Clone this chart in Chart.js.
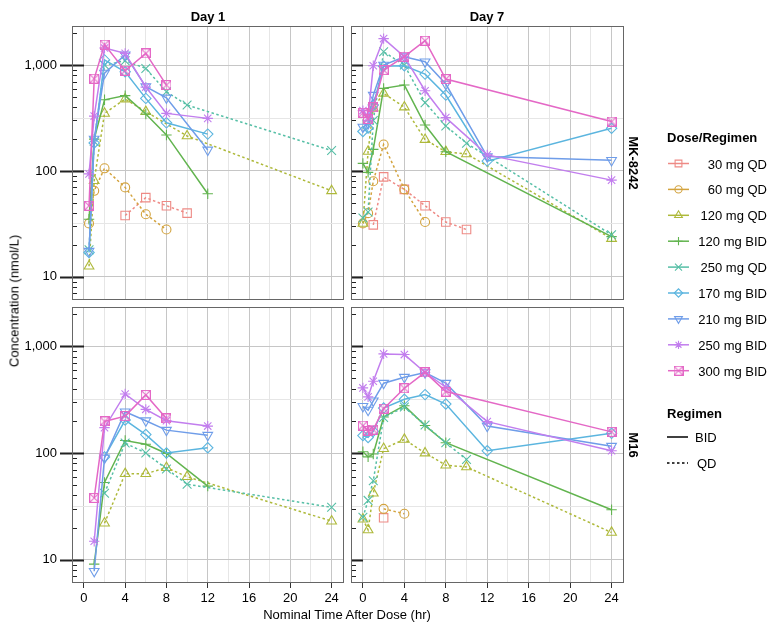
<!DOCTYPE html>
<html>
<head>
<meta charset="utf-8">
<script src="https://cdn.jsdelivr.net/npm/chart.js@4.4.0/dist/chart.umd.min.js"></script>
<style>
  html, body { margin: 0; padding: 0; background: #fff; }
  body { width: 779px; height: 634px; position: relative; overflow: hidden;
         font-family: "Liberation Sans", Arial, Helvetica, sans-serif; color: #000; }
  canvas.panel { position: absolute; }
  .t { position: absolute; white-space: nowrap; font-size: 13px; line-height: 1; }
  .b { font-weight: bold; }
</style>
</head>
<body>
<canvas id="pTL" class="panel" width="356" height="298" style="left:0px;top:14px"></canvas>
<canvas id="pTR" class="panel" width="297" height="298" style="left:339px;top:14px"></canvas>
<canvas id="pBL" class="panel" width="356" height="320" style="left:0px;top:295px"></canvas>
<canvas id="pBR" class="panel" width="297" height="320" style="left:339px;top:295px"></canvas>
<canvas id="leg" class="panel" width="45" height="345" style="left:655px;top:140px"></canvas>
<script>
// ---------------- data ----------------
const TIMES   = [0, 0.5, 1, 2, 4, 6, 8, 10, 12, 24];
const SERIES  = ['30 mg QD', '60 mg QD', '120 mg QD', '120 mg BID', '250 mg QD',
                 '170 mg BID', '210 mg BID', '250 mg BID', '300 mg BID'];
const REGIMEN = ['QD', 'QD', 'QD', 'BID', 'QD', 'BID', 'BID', 'BID', 'BID'];
const COLS    = ['Day 1', 'Day 7'];
const ROWS    = ['MK-8242', 'M16'];
const X_GRID  = [0, 2, 4, 6, 8, 10, 12, 14, 16, 18, 20, 22, 24];
const X_TICKS = [0, 4, 8, 12, 16, 20, 24];
const Y_GRID  = [10, 31.62, 100, 316.2, 1000];
const Y_TICKS = [10, 100, 1000];
const _ = null;

// Day 1, MK-8242            0    0.5   1     2     4     6     8    10    12    24
const D1_MK_30QD  = [_,   _,    _,    _,    38,   56,   47,   40,   _,    _];
const D1_MK_60QD  = [_,   32,   65,   106,  70,   39,   28,   _,    _,    _];
const D1_MK_120QD = [_,   12.6, 81,   350,  478,  363,  _,    214,  _,    65];
const D1_MK_120BID= [_,   35,   200,  470,  515,  345,  219,  _,    61,   _];
const D1_MK_250QD = [_,   18,   190,  1000, 1100, 930,  560,  420,  _,    156];
const D1_MK_170BID= [_,   17,   184,  1120, 865,  485,  285,  _,    223,  _];
const D1_MK_210BID= [_,   17.5, 200,  840,  1250, 625,  490,  _,    158,  _];
const D1_MK_250BID= [_,   94,   330,  1450, 1290, 620,  350,  _,    314,  _];
const D1_MK_300BID= [_,   47,   745,  1560, 885,  1290, 647,  _,    _,    _];

// Day 7, MK-8242
const D7_MK_30QD  = [_,   _,    31,   88,   67,   47,   33,   28,   _,    _];
const D7_MK_60QD  = [32,  40,   80,   178,  67,   33,   _,    _,    _,    _];
const D7_MK_120QD = [32,  153,  393,  541,  401,  198,  152,  145,  _,    23];
const D7_MK_120BID= [118, 97,   160,  603,  648,  272,  152,  _,    _,    24];
const D7_MK_250QD = [36,  41,   300,  1336, 1000, 442,  266,  183,  _,    25];
const D7_MK_170BID= [236, 255,  420,  975,  985,  822,  521,  _,    124,  253];
const D7_MK_210BID= [260, 280,  520,  1000, 1200, 1075, 662,  _,    137,  126];
const D7_MK_250BID= [372, 320,  985,  1780, 1200, 573,  319,  _,    142,  82];
const D7_MK_300BID= [355, 310,  400,  897,  1200, 1700, 738,  _,    _,    293];

// Day 1, M16
const D1_M16_30QD  = [_,  _,    _,    _,    _,    _,    _,    _,    _,    _];
const D1_M16_60QD  = [_,  _,    _,    _,    _,    _,    _,    _,    _,    _];
const D1_M16_120QD = [_,  _,    _,    22,   64,   64,   73,   60,   _,    23];
const D1_M16_120BID= [_,  _,    9.1,  53,   131,  121,  99,   _,    49,   _];
const D1_M16_250QD = [_,  _,    _,    42,   124,  100,  71,   51,   _,    31];
const D1_M16_170BID= [_,  _,    _,    92,   204,  149,  100,  _,    112,  _];
const D1_M16_210BID= [_,  _,    7.8,  90,   244,  201,  164,  _,    147,  _];
const D1_M16_250BID= [_,  _,    14.9, 173,  358,  257,  201,  _,    179,  _];
const D1_M16_300BID= [_,  _,    38,   198,  222,  351,  211,  _,    _,    _];

// Day 7, M16
const D7_M16_30QD  = [_,  _,    _,    24.7, _,    _,    _,    _,    _,    _];
const D7_M16_60QD  = [_,  _,    _,    30,   27,   _,    _,    _,    _,    _];
const D7_M16_120QD = [24, 19,   42,   110,  134,  100,  77,   74,   _,    18];
const D7_M16_120BID= [103, 92,  98,   218,  278,  181,  125,  _,    _,    29.4];
const D7_M16_250QD = [25, 36,   55,   215,  270,  183,  125,  87,   _,    _];
const D7_M16_170BID= [146, 140, 160,  264,  319,  353,  288,  _,    105,  153];
const D7_M16_210BID= [274, 253, 309,  452,  514,  569,  452,  _,    179,  116];
const D7_M16_250BID= [408, 336, 471,  850,  838,  569,  414,  _,    197,  105];
const D7_M16_300BID= [181, 161, 166,  261,  405,  571,  377,  _,    _,    158];

const PANEL_D1_MK  = [D1_MK_30QD, D1_MK_60QD, D1_MK_120QD, D1_MK_120BID, D1_MK_250QD, D1_MK_170BID, D1_MK_210BID, D1_MK_250BID, D1_MK_300BID];
const PANEL_D7_MK  = [D7_MK_30QD, D7_MK_60QD, D7_MK_120QD, D7_MK_120BID, D7_MK_250QD, D7_MK_170BID, D7_MK_210BID, D7_MK_250BID, D7_MK_300BID];
const PANEL_D1_M16 = [D1_M16_30QD, D1_M16_60QD, D1_M16_120QD, D1_M16_120BID, D1_M16_250QD, D1_M16_170BID, D1_M16_210BID, D1_M16_250BID, D1_M16_300BID];
const PANEL_D7_M16 = [D7_M16_30QD, D7_M16_60QD, D7_M16_120QD, D7_M16_120BID, D7_M16_250QD, D7_M16_170BID, D7_M16_210BID, D7_M16_250BID, D7_M16_300BID];

// ---------------- styles ----------------
const COLORS = ['#EE8A85', '#D3A33E', '#AEB93A', '#62B44F', '#56BFA6',
                '#5BB5DF', '#6F9DE9', '#C27EEE', '#E468C6'];
const FONT = '"Liberation Sans", Arial, Helvetica, sans-serif';

function boxX(color, size) {
  const c = document.createElement('canvas');
  c.width = size; c.height = size;
  const g = c.getContext('2d');
  g.strokeStyle = color; g.lineWidth = 1.1;
  g.strokeRect(0.55, 0.55, size - 1.1, size - 1.1);
  g.beginPath();
  g.moveTo(0.55, 0.55); g.lineTo(size - 0.55, size - 0.55);
  g.moveTo(size - 0.55, 0.55); g.lineTo(0.55, size - 0.55);
  g.stroke();
  return c;
}
const POINT_STYLE = ['rect', 'circle', 'triangle', 'cross', 'crossRot',
                     'rectRot', 'triangle', 'star', boxX(COLORS[8], 10)];
const POINT_R     = [6, 4.5, 5.6, 5.2, 6.2, 5.2, 5.6, 5.2, 5];
const POINT_ROT   = [0, 0, 0, 0, 0, 0, 180, 0, 0];

function datasets(panel) {
  return panel.map((vals, i) => ({
    label: SERIES[i],
    data: TIMES.map((t, k) => ({ x: t, y: vals[k] })).filter(p => p.y !== null),
    borderColor: COLORS[i],
    backgroundColor: 'rgba(0,0,0,0)',
    borderWidth: 1.5,
    borderDash: REGIMEN[i] === 'QD' ? [2.5, 2.5] : [],
    pointStyle: POINT_STYLE[i],
    pointRadius: POINT_R[i],
    pointRotation: POINT_ROT[i],
    pointBorderWidth: 1.1,
    pointBorderColor: COLORS[i],
    pointBackgroundColor: 'rgba(0,0,0,0)',
    tension: 0,
    order: 8 - i
  })).filter(d => d.data.length > 0);
}

const deco = {
  id: 'deco',
  afterDraw(chart, args, opts) {
    const { ctx, chartArea: a } = chart;
    const y = chart.scales.y;
    ctx.save();
    ctx.strokeStyle = '#222';
    for (let e = 0; e <= 3; e++) {
      for (let m = 1; m <= 9; m++) {
        const v = m * Math.pow(10, e);
        if (v < y.min || v > y.max) continue;
        const py = Math.round(y.getPixelForValue(v)) + 0.5;
        const major = m === 1;
        ctx.lineWidth = major ? 2 : 1;
        ctx.beginPath();
        ctx.moveTo(a.left - (major && opts.outer ? 12 : 0), py);
        ctx.lineTo(a.left + (major ? 12 : 5), py);
        ctx.stroke();
      }
    }
    ctx.strokeStyle = '#666';
    ctx.lineWidth = 1;
    ctx.strokeRect(Math.round(a.left) + 0.5, Math.round(a.top) + 0.5,
                   Math.round(a.width) - 1, Math.round(a.height) - 1);
    ctx.restore();
  }
};

const MAJOR_GRID = '#c6c6c6';
const MINOR_GRID = '#e6e6e6';

function makeChart(id, panel, isLeft, isBottom) {
  const padding = { top: 12, right: 12, bottom: isBottom ? 2 : 12, left: isLeft ? 0 : 12 };
  return new Chart(document.getElementById(id), {
    type: 'line',
    data: { datasets: datasets(panel) },
    options: {
      responsive: false, animation: false, devicePixelRatio: 1, events: [],
      layout: { padding },
      plugins: { legend: { display: false }, tooltip: { enabled: false }, deco: { outer: isLeft } },
      scales: {
        x: {
          type: 'linear', min: -1.15, max: 25.2, bounds: 'data',
          afterBuildTicks: s => { s.ticks = X_GRID.map(v => ({ value: v })); },
          afterFit: s => { s.height = isBottom ? 30 : 0; },
          border: { display: false },
          grid: {
            color: c => (c.tick && X_TICKS.includes(c.tick.value)) ? MAJOR_GRID : MINOR_GRID,
            lineWidth: 1,
            drawTicks: isBottom, tickLength: 5,
            tickColor: c => (c.tick && X_TICKS.includes(c.tick.value)) ? '#333' : 'rgba(0,0,0,0)'
          },
          ticks: {
            display: isBottom, autoSkip: false, maxRotation: 0, padding: 3,
            color: '#000', font: { size: 13, family: FONT },
            callback: v => X_TICKS.includes(v) ? String(v) : ''
          }
        },
        y: {
          type: 'logarithmic', min: 6.05, max: 2340, bounds: 'data',
          afterBuildTicks: s => { s.ticks = Y_GRID.map(v => ({ value: v })); },
          afterFit: s => { s.width = isLeft ? 72 : 0; },
          border: { display: false },
          grid: {
            color: c => (c.tick && Y_TICKS.includes(c.tick.value)) ? MAJOR_GRID : MINOR_GRID,
            lineWidth: 1, drawTicks: isLeft, tickLength: 15, tickColor: 'rgba(0,0,0,0)'
          },
          ticks: {
            display: isLeft, autoSkip: false, padding: 0,
            color: '#000', font: { size: 13, family: FONT },
            callback: v => Y_TICKS.includes(v) ? v.toLocaleString('en-US') : ''
          }
        }
      }
    },
    plugins: [deco]
  });
}

makeChart('pTL', PANEL_D1_MK, true, false);
makeChart('pTR', PANEL_D7_MK, false, false);
makeChart('pBL', PANEL_D1_M16, true, true);
makeChart('pBR', PANEL_D7_M16, false, true);

// ---------------- text ----------------
function text(str, cx, cy, cls, rot, align) {
  const d = document.createElement('div');
  d.className = 't ' + (cls || '');
  d.textContent = str;
  d.style.left = cx + 'px';
  d.style.top = cy + 'px';
  const tx = align === 'left' ? '0' : (align === 'right' ? '-100%' : '-50%');
  d.style.transform = 'translate(' + tx + ',-50%)';
  if (rot) d.style.transform = 'translate(-50%,-50%) rotate(' + rot + 'deg)';
  document.body.appendChild(d);
  return d;
}
text(COLS[0], 208, 16, 'b');
text(COLS[1], 487, 16, 'b');
text(ROWS[0], 633, 163, 'b', 90);
text(ROWS[1], 633, 445, 'b', 90);
text('Concentration (nmol/L)', 14, 301, '', -90);
text('Nominal Time After Dose (hr)', 347, 614, '');

// legend
text('Dose/Regimen', 667, 137, 'b', 0, 'left');
const LEG_Y0 = 163.5, LEG_DY = 25.9;
const lg = document.getElementById('leg').getContext('2d');
const LX = 655, LY = 140;
SERIES.forEach((s, i) => {
  const y = LEG_Y0 + i * LEG_DY;
  text(s, 767, y, '', 0, 'right');
  lg.save();
  lg.strokeStyle = COLORS[i];
  lg.fillStyle = 'rgba(0,0,0,0)';
  lg.lineWidth = 1.5;
  lg.beginPath();
  lg.moveTo(668 - LX, y - LY); lg.lineTo(689 - LX, y - LY);
  lg.stroke();
  lg.lineWidth = 1.1;
  if (Chart.helpers && Chart.helpers.drawPoint) {
    Chart.helpers.drawPoint(lg, { pointStyle: POINT_STYLE[i], radius: POINT_R[i] * 0.8,
      rotation: POINT_ROT[i], borderWidth: 1.1 }, 678.5 - LX, y - LY);
  }
  lg.restore();
});
text('Regimen', 667, 413, 'b', 0, 'left');
text('BID', 695, 437, '', 0, 'left');
text('QD', 697, 463, '', 0, 'left');
lg.strokeStyle = '#000';
lg.lineWidth = 1.5;
lg.beginPath(); lg.moveTo(667 - LX, 437 - LY); lg.lineTo(688 - LX, 437 - LY); lg.stroke();
lg.setLineDash([2.5, 2.5]);
lg.beginPath(); lg.moveTo(667 - LX, 463 - LY); lg.lineTo(688 - LX, 463 - LY); lg.stroke();
</script>
</body>
</html>
